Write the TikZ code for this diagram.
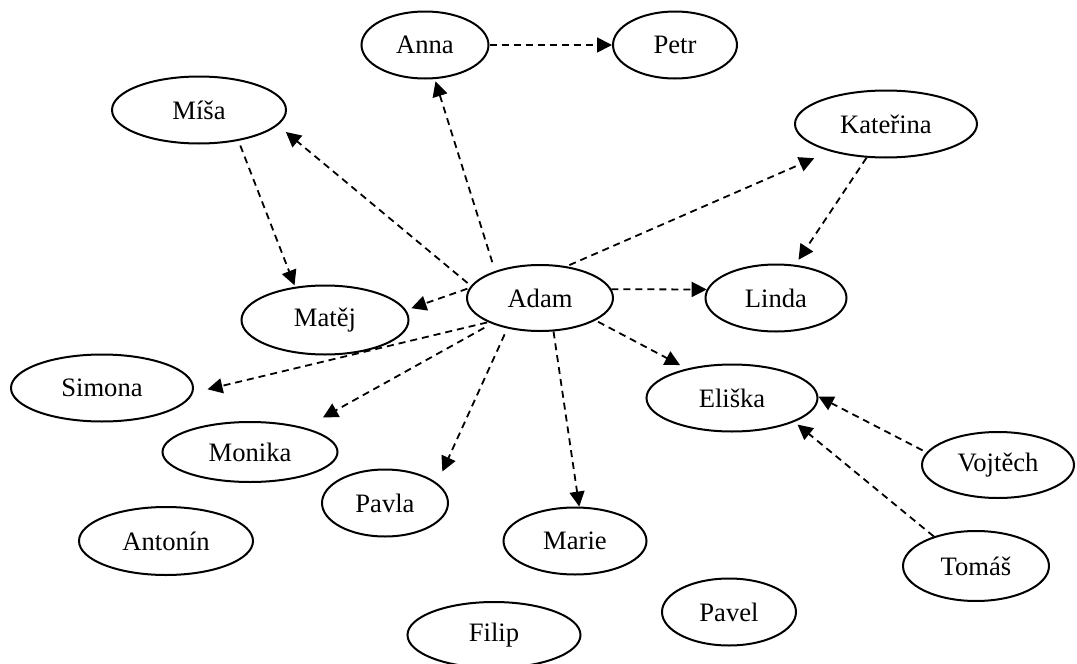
\documentclass[tikz,border=0pt]{standalone}
\usepackage{fontspec}
\setmainfont{Liberation Serif}
\usetikzlibrary{arrows.meta, shapes.geometric}

\begin{document}
\begin{tikzpicture}[
  x=0.5pt, y=-0.5pt,
  person/.style={ellipse, draw=black, line width=1pt, inner sep=0pt,
                 minimum height=33.5pt, font=\fontsize{13.3pt}{15pt}\selectfont},
  arrow/.style={-{Triangle[length=7.5pt, width=7.5pt]}, line width=0.9pt,
                dash pattern=on 3.5pt off 2.5pt}
]
\useasboundingbox (0,0) rectangle (1077,664);

\node[person, minimum width=63.5pt] (Anna)    at (425,45)  {Anna};
\node[person, minimum width=62pt]   (Petr)    at (675,45)  {Petr};
\node[person, minimum width=87pt]   (Misa)    at (199,110) {Míša};
\node[person, minimum width=91pt]   (Kat)     at (886,124) {Kateřina};
\node[person, minimum width=73pt, minimum height=33pt] (Adam) at (540,298) {Adam};
\node[person, minimum width=70.5pt] (Linda)   at (776,298) {Linda};
\node[person, minimum width=83.5pt, minimum height=34.5pt] (Matej) at (325,320) {Matěj};
\node[person, minimum width=91pt]   (Simona)  at (102,388) {Simona};
\node[person, minimum width=85.5pt] (Eliska)  at (732,398) {Eliška};
\node[person, minimum width=87.5pt, minimum height=30pt] (Monika) at (250,452) {Monika};
\node[person, minimum width=76pt, minimum height=33pt] (Vojtech) at (998,465) {Vojtěch};
\node[person, minimum width=63pt]   (Pavla)   at (385,503) {Pavla};
\node[person, minimum width=87pt, minimum height=34pt] (Antonin) at (166,541) {Antonín};
\node[person, minimum width=71.5pt] (Marie)   at (575,541) {Marie};
\node[person, minimum width=73pt, minimum height=35pt] (Tomas) at (976,566) {Tomáš};
\node[person, minimum width=67pt]   (Pavel)   at (729,612) {Pavel};
\node[person, minimum width=86.5pt, minimum height=33pt] (Filip) at (494,635) {Filip};

% from / to / gap at start / gap at tip
\foreach \a/\b/\s/\t in {Adam.149/Anna.286/4.6/1.2, Adam.170/Misa.349/2.2/5.2,
    Misa.322/Matej.132/2.5/0.8, Anna.east/Petr.west/0/0,
    Adam.50/Kat.206/1.5/8.6, Adam.7/Linda.173/0/0, Kat.240/Linda.60/0/3,
    Adam.172/Matej.7/1/2.8, Adam.205/Simona.357/0.5/7.4,
    Adam.208/Monika.24/4.2/10.4, Adam.223/Pavla.21/3.2/6.3,
    Adam.292/Marie.83/0/0, Adam.338/Eliska.147/1.4/3.8,
    Vojtech.170/Eliska.1/2.2/0, Tomas.145/Eliska.339/0/2.1}
  \draw[arrow, shorten <=\s pt, shorten >=\t pt] (\a) -- (\b);

\end{tikzpicture}
\end{document}
